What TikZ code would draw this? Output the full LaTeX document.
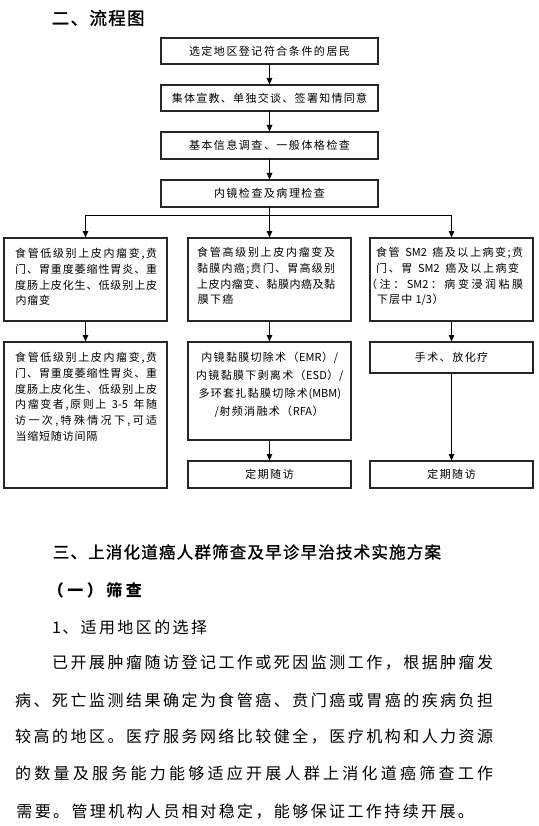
\documentclass[tikz,border=0pt]{standalone}
\usepackage{fontspec}
\setmainfont{Noto Sans CJK SC}
\newfontfamily\headfont[FakeBold=1.2]{Noto Sans CJK SC}
\usetikzlibrary{arrows.meta}
\makeatletter
\newlength\g@pitch
\def\g@end{\g@end}
\def\g@endmark{\g@end}
\newif\ifg@first
\def\g@loop#1{\def\g@tmp{#1}\ifx\g@tmp\g@endmark\else\g@cell{#1}\expandafter\g@loop\fi}
\def\g@gcell#1{\setbox0\hbox{#1}\ifdim\wd0>0.7em\ifdim\wd0<1.05em\hbox to\g@pitch{\hss\box0\hss}\else\box0\fi\else\box0\fi}
\def\g@jcell#1{\ifg@first\g@firstfalse\else\hfil\fi\hbox{#1}}
\newcommand\gline[2]{\setlength\g@pitch{#1}\hbox{\let\g@cell\g@gcell\g@loop#2\g@end}}
\newcommand\jline[2]{\hbox to #1{\g@firsttrue\let\g@cell\g@jcell\g@loop#2\g@end}}
\makeatother
\begin{document}
\begin{tikzpicture}[x=1pt,y=-1pt,
  box/.style={draw=black!85, line width=1.1pt, inner sep=0pt, outer sep=0.5pt,
    font=\fontsize{11}{14}\selectfont},
  arr/.style={line width=1pt, -{Triangle[length=6.5pt,width=5.5pt]}},
  txt/.style={inner sep=0pt, anchor=north west, align=left,
    font=\fontsize{11}{15.8}\selectfont},
  body/.style={inner sep=0pt, anchor=west, font=\fontsize{16}{20}\selectfont}]
\fill[white] (0,0) rectangle (538,826);
\path[use as bounding box] (0,0) rectangle (538,826);

% heading
\node[inner sep=0pt, anchor=west, font=\fontsize{17.5}{20}\headfont] (h1) at (51,18) {\gline{18.8pt}{二、流程图}};

% top chain
\node[box, minimum width=217pt, minimum height=26pt] (b1) at (269.5,51) {\gline{12.5pt}{选定地区登记符合条件的居民}};
\node[box, minimum width=217pt, minimum height=26pt] (b2) at (269.5,98) {\gline{12.3pt}{集体宣教、单独交谈、签署知情同意}};
\node[box, minimum width=217pt, minimum height=27pt] (b3) at (269.5,145.5) {\gline{12.5pt}{基本信息调查、一般体格检查}};
\node[box, minimum width=217pt, minimum height=27pt] (b4) at (269.5,193.5) {\gline{12.5pt}{内镜检查及病理检查}};

% lower boxes
\node[box, minimum width=163pt, minimum height=83pt] (l1) at (85.5,279.5) {};
\node[box, minimum width=163pt, minimum height=146pt] (l2) at (85.5,415) {};
\node[box, minimum width=163pt, minimum height=83pt] (m1) at (269.5,279.5) {};
\node[box, minimum width=163pt, minimum height=98pt] (m2) at (269.5,391) {};
\node[box, minimum width=163pt, minimum height=27pt] (m3) at (269.5,474.5) {\gline{12.5pt}{定期随访}};
\node[box, minimum width=163pt, minimum height=83pt] (r1) at (451.5,279.5) {};
\node[box, minimum width=163pt, minimum height=31pt] (r2) at (451.5,357.5) {\gline{12.5pt}{手术、放化疗}};
\node[box, minimum width=163pt, minimum height=27pt] (r3) at (451.5,474.5) {\gline{12.5pt}{定期随访}};

% box texts
\node[txt] (l1t) at (15,248) {\jline{142pt}{食管低级别上皮内瘤变,贲}\\\jline{142pt}{门、胃重度萎缩性胃炎、重}\\\jline{142pt}{度肠上皮化生、低级别上皮}\\\gline{11.8pt}{内瘤变}};
\node[txt] (l2t) at (15,352) {\jline{142pt}{食管低级别上皮内瘤变,贲}\\\jline{142pt}{门、胃重度萎缩性胃炎、重}\\\jline{142pt}{度肠上皮化生、低级别上皮}\\\jline{142pt}{内瘤变者,原则上~{3-5}~年随}\\\jline{142pt}{访一次,特殊情况下,可适}\\\gline{11.8pt}{当缩短随访间隔}};
\node[txt] (m1t) at (197,247) {\jline{138pt}{食管高级别上皮内瘤变及}\\\jline{138pt}{黏膜内癌;贲门、胃高级别}\\\jline{138pt}{上皮内瘤变、黏膜内癌及黏}\\\gline{12.3pt}{膜下癌}};
\node[txt] (r1t) at (376,247) {\jline{147pt}{食管~{SM2}~癌及以上病变;贲}\\\jline{143pt}{门、胃~{SM2}~癌及以上病变}\\\hspace*{-10pt}\jline{157pt}{（注：{SM2}：病变浸润粘膜}\\\gline{12.3pt}{下层中~{1/3}）}};
\node[inner sep=0pt, align=center, font=\fontsize{11}{18}\selectfont] (m2t) at (269.5,385) {\gline{12.3pt}{内镜黏膜切除术（{EMR}）/}\\\gline{12.3pt}{内镜黏膜下剥离术（{ESD}）/}\\\gline{12.3pt}{多环套扎黏膜切除术({MBM})}\\\gline{12.3pt}{/射频消融术（{RFA}）}};

% connectors
\coordinate (split) at (269.5,216);
\draw[arr] (b1) -- (b2);
\draw[arr] (b2) -- (b3);
\draw[arr] (b3) -- (b4);
\draw[arr] (b4) -- (m1);
\draw[arr] (split) -| (l1.north);
\draw[arr] (split) -| (r1.north);
\draw[arr] (l1) -- (l2);
\draw[arr] (m1) -- (m2);
\draw[arr] (m2) -- (m3);
\draw[arr] (r1) -- (r2);
\draw[arr] (r2) -- (r3);

% lower text section
\node[inner sep=0pt, anchor=west, font=\fontsize{16.5}{20}\headfont] (h2) at (52,552) {\gline{17.7pt}{三、上消化道癌人群筛查及早诊早治技术实施方案}};
\node[inner sep=0pt, anchor=west, font=\fontsize{16}{20}\selectfont\bfseries] (h3) at (46,590) {\gline{19.5pt}{（一）筛查}};
\node[body] (h4) at (52,627) {\gline{18.4pt}{1、适用地区的选择}};
\node[body] (p1) at (52,663) {\jline{441pt}{已开展肿瘤随访登记工作或死因监测工作，根据肿瘤发}};
\node[body] (p2) at (15,700) {\jline{478pt}{病、死亡监测结果确定为食管癌、贲门癌或胃癌的疾病负担}};
\node[body] (p3) at (15,737) {\jline{478pt}{较高的地区。医疗服务网络比较健全，医疗机构和人力资源}};
\node[body] (p4) at (15,773) {\jline{478pt}{的数量及服务能力能够适应开展人群上消化道癌筛查工作}};
\node[body] (p5) at (15,812) {\gline{18.4pt}{需要。管理机构人员相对稳定，能够保证工作持续开展。}};
\end{tikzpicture}
\end{document}
